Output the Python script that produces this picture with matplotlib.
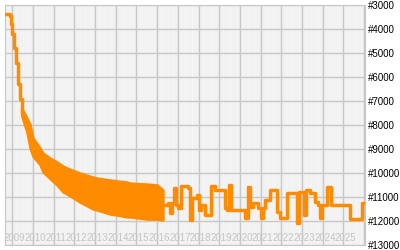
import numpy as np
import matplotlib
matplotlib.use("Agg")
import matplotlib.pyplot as plt

plt.rcParams['font.family'] = ['Liberation Sans', 'DejaVu Sans']

# early steep climb (year fraction, rank)
early_years = [2008.65, 2008.89, 2008.94, 2008.99, 2009.08, 2009.18, 2009.28, 2009.37, 2009.47]
early_vals = [3380, 3450, 3800, 4200, 4800, 5400, 6300, 6900, 7400]

# dense oscillation band 2009.5 - 2016.3: upper / lower envelope
band_years = [2009.45, 2009.71, 2009.86, 2010.00, 2010.34, 2010.48, 2010.82, 2011.16, 2011.45, 2011.64,
              2012.27, 2012.90, 2013.09, 2013.72, 2014.06, 2014.54, 2014.69, 2015.51, 2016.00, 2016.28]
band_top = [7300, 7710, 8000, 8540, 8960, 9170, 9375, 9540, 9710, 9790,
            10000, 10170, 10210, 10290, 10330, 10375, 10420, 10460, 10500, 10710]
band_low = [7600, 8300, 8950, 9300, 9650, 9950, 10230, 10500, 10790, 10875,
            11210, 11500, 11540, 11710, 11750, 11830, 11830, 11920, 11920, 11960]

# sparse steps after 2016
late_years = [2016.28, 2016.52, 2016.62, 2016.72, 2016.81, 2016.91, 2017.00, 2017.15, 2017.49, 2017.58,
              2017.68, 2017.92, 2018.02, 2018.12, 2018.31, 2018.60, 2018.79, 2019.28, 2019.37, 2019.47,
              2019.57, 2020.24, 2020.39, 2020.48, 2020.63, 2020.87, 2021.01, 2021.11, 2021.21, 2021.45,
              2021.79, 2021.93, 2022.27, 2022.75, 2022.85, 2023.09, 2023.19, 2023.38, 2023.62, 2023.76,
              2023.86, 2023.95, 2024.20, 2024.39, 2025.31, 2025.89, 2026.04]
late_vals = [11333, 11250, 11667, 11250, 10625, 11333, 11458, 10542, 10625, 11958,
             11042, 10917, 11542, 11333, 11750, 10542, 10708, 11458, 11542, 10500,
             11542, 11875, 10583, 11417, 11250, 11458, 11875, 11458, 11125, 10708,
             11625, 11875, 10833, 12083, 10792, 11750, 10708, 10833, 11208, 11333,
             11875, 11333, 10583, 11333, 11917, 11250, 11250]

year_labels = list(range(2009, 2026))
y_ticks = list(range(3000, 14000, 1000))

orange = '#ff8c00'

fig = plt.figure(figsize=(4, 2.5), dpi=100)
ax = fig.add_axes([5 / 400, 5 / 250, 360 / 400, 240 / 250])
ax.set_facecolor('#eeeeee')
ax.set_xlim(2008.65, 2026.04)
ax.set_ylim(13000, 3000)

# monthly white stripes and grey year / rank grid
for yr in range(2008, 2027):
    for m in range(1, 12):
        ax.axvline(yr + m / 12, color='white', lw=0.35, zorder=0)
    ax.axvline(yr, color='#c8c8c8', lw=1.0, zorder=1)
for v in y_ticks:
    ax.axhline(v, color='#c8c8c8', lw=1.0, zorder=1)

ax.step(early_years, early_vals, where='post', color=orange, lw=2.5, zorder=3)
ax.fill_between(band_years, band_top, band_low, color=orange, lw=1.8, edgecolor=orange, zorder=3)
ax.step(late_years, late_vals, where='post', color=orange, lw=2.5, zorder=3)

for yr in year_labels:
    ax.text(yr + 0.1, 12700, str(yr), ha='center', va='center', fontsize=7,
            color='#c4c4c4', clip_on=True, zorder=2)

ax.set_xticks([])
ax.yaxis.tick_right()
ax.set_yticks(y_ticks)
ax.set_yticklabels(['#%d' % v for v in y_ticks], fontsize=7)
ax.tick_params(axis='y', length=0, pad=2)
for s in ax.spines.values():
    s.set_color('#c8c8c8')

fig.savefig('out.png', dpi=100)
